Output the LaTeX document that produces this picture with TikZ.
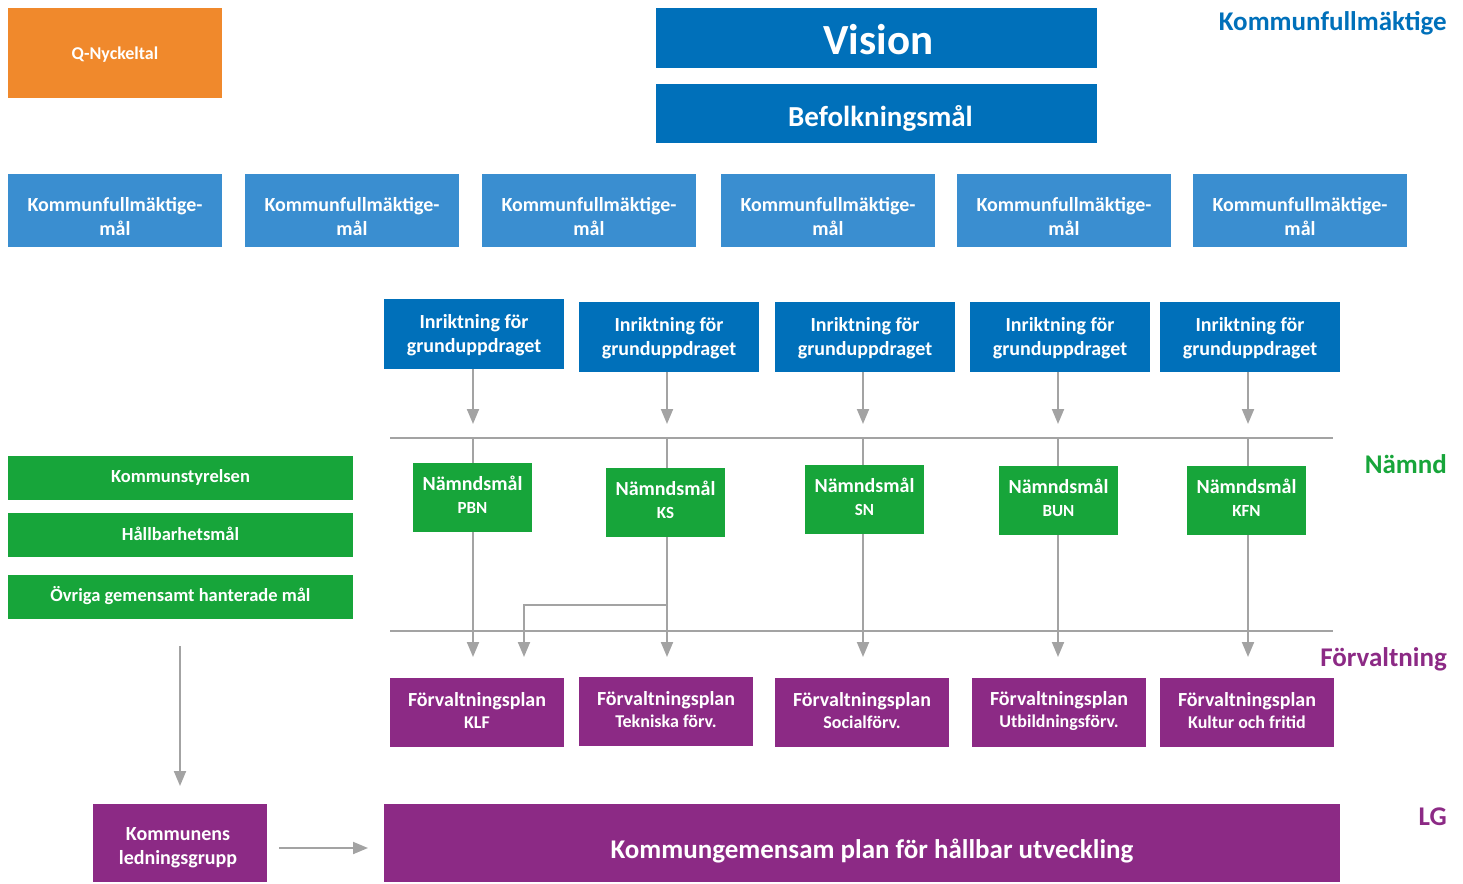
\documentclass[tikz,border=0pt]{standalone}
\usepackage{fontspec}
\setmainfont{Carlito}
\usetikzlibrary{arrows.meta}
\definecolor{orangeC}{HTML}{F0892C}
\definecolor{darkblue}{HTML}{0070BA}
\definecolor{lightblue}{HTML}{3A8ED0}
\definecolor{greenC}{HTML}{17A53A}
\definecolor{purpleC}{HTML}{8C2A85}
\definecolor{lineC}{HTML}{A3A3A3}
\tikzset{
  box/.style={draw=none,inner sep=0pt,outer sep=0pt},
  txt/.style={text=white,align=center,inner sep=0pt},
  conn/.style={draw=lineC,line width=2pt},
  arr/.style={conn,-{Triangle[width=12pt,length=15pt]}},
  lab/.style={font=\bfseries\fontsize{27}{30}\selectfont,anchor=east,inner sep=0pt}
}
% name, cx, cy, w, h, fill, text style, shift (dx,dy in picture coords), text
\newcommand{\tbox}[9]{%
  \node[box,fill=#6,minimum width=#4pt,minimum height=#5pt] (#1) at (#2,#3) {};
  \node[txt,#7] (#1t) at ([shift={(#8)}]#1.center) {#9};
}
\begin{document}
\begin{tikzpicture}[x=1pt,y=-1pt]
\useasboundingbox (0,0) rectangle (1463,883);
% top
\tbox{q}{115}{53}{214}{90}{orangeC}{font=\bfseries\fontsize{18}{22}\selectfont}{0,1.5}{Q-Nyckeltal}
\tbox{vision}{876.5}{38}{441}{60}{darkblue}{font=\bfseries\fontsize{43}{46}\selectfont}{2,2}{Vision}
\tbox{befolk}{876.5}{113.5}{441}{59}{darkblue}{font=\bfseries\fontsize{29}{32}\selectfont}{4,5}{Befolkningsmål}
\node[lab,text=darkblue] (lkf) at (1447,23) {Kommunfullmäktige};
% KF goals
\foreach \cx [count=\i] in {115,352,589,828,1064,1300}{
  \tbox{kf\i}{\cx}{210.5}{214}{73}{lightblue}{font=\bfseries\fontsize{20}{24}\selectfont}{0,6}{Kommunfullmäktige-\\mål}
}
% Inriktning
\tikzset{inr/.style={font=\bfseries\fontsize{20}{24}\selectfont}}
\tbox{i1}{474}{334}{180}{70}{darkblue}{inr}{0,1.5}{Inriktning för\\grunduppdraget}
\tbox{i2}{669}{337}{180}{70}{darkblue}{inr}{0,1.5}{Inriktning för\\grunduppdraget}
\tbox{i3}{865}{337}{180}{70}{darkblue}{inr}{0,1.5}{Inriktning för\\grunduppdraget}
\tbox{i4}{1060}{337}{180}{70}{darkblue}{inr}{0,1.5}{Inriktning för\\grunduppdraget}
\tbox{i5}{1250}{337}{180}{70}{darkblue}{inr}{0,1.5}{Inriktning för\\grunduppdraget}
% level lines
\coordinate (l1a) at (390,438); \coordinate (l1b) at (1333,438);
\coordinate (l2a) at (390,631); \coordinate (l2b) at (1333,631);
\draw[conn,line width=2.2pt] (l1a) -- (l1b);
\draw[conn,line width=2.2pt] (l2a) -- (l2b);
\node[lab,text=greenC] (lnamnd) at (1447,464) {Nämnd};
\node[lab,text=purpleC] (lforv) at (1447,659) {Förvaltning};
\node[lab,text=purpleC] (llg) at (1447,817) {LG};
% Nämndsmål
\tikzset{nm/.style={font=\bfseries\fontsize{20}{23}\selectfont}}
\newcommand{\sub}[1]{{\fontsize{17}{20}\selectfont #1}}
\tbox{n1}{472.5}{497.5}{119}{69}{greenC}{nm}{0,-3}{Nämndsmål\\\sub{PBN}}
\tbox{n2}{665.5}{502.5}{119}{69}{greenC}{nm}{0,-3}{Nämndsmål\\\sub{KS}}
\tbox{n3}{864.5}{499.5}{119}{69}{greenC}{nm}{0,-3}{Nämndsmål\\\sub{SN}}
\tbox{n4}{1058.5}{500.5}{119}{69}{greenC}{nm}{0,-3}{Nämndsmål\\\sub{BUN}}
\tbox{n5}{1246.5}{500.5}{119}{69}{greenC}{nm}{0,-3}{Nämndsmål\\\sub{KFN}}
% Förvaltningsplan
\tikzset{fp/.style={font=\bfseries\fontsize{20}{22}\selectfont}}
\newcommand{\fsub}[1]{{\fontsize{18}{20}\selectfont #1}}
\tbox{f1}{477}{712.5}{174}{69}{purpleC}{fp}{0,-2}{Förvaltningsplan\\\fsub{KLF}}
\tbox{f2}{666}{711.5}{174}{69}{purpleC}{fp}{0,-2}{Förvaltningsplan\\\fsub{Tekniska förv.}}
\tbox{f3}{862}{712.5}{174}{69}{purpleC}{fp}{0,-2}{Förvaltningsplan\\\fsub{Socialförv.}}
\tbox{f4}{1059}{712.5}{174}{69}{purpleC}{fp}{0,-2}{Förvaltningsplan\\\fsub{Utbildningsförv.}}
\tbox{f5}{1247}{712.5}{174}{69}{purpleC}{fp}{0,-2}{Förvaltningsplan\\\fsub{Kultur och fritid}}
% arrows inriktning -> nämnd
\foreach \x/\i in {473/1,667/2,863/3,1058/4,1248/5}{
  \coordinate (a\i) at (\x,424);
  \coordinate (b\i) at (\x,438);
  \coordinate (c\i) at (\x,657);
}
\draw[arr] (i1.south -| a1) -- (a1);
\draw[arr] (i2.south -| a2) -- (a2);
\draw[arr] (i3.south -| a3) -- (a3);
\draw[arr] (i4.south -| a4) -- (a4);
\draw[arr] (i5.south -| a5) -- (a5);
\draw[conn] (b1) -- (n1.north -| b1);
\draw[conn] (b2) -- (n2.north -| b2);
\draw[conn] (b3) -- (n3.north -| b3);
\draw[conn] (b4) -- (n4.north -| b4);
\draw[conn] (b5) -- (n5.north -| b5);
\draw[arr] (n1.south -| c1) -- (c1);
\draw[arr] (n2.south -| c2) -- (c2);
\draw[arr] (n3.south -| c3) -- (c3);
\draw[arr] (n4.south -| c4) -- (c4);
\draw[arr] (n5.south -| c5) -- (c5);
\coordinate (ksb) at (667,605);
\coordinate (ksc) at (524,657);
\draw[arr] (ksb) -| (ksc);
% left column
\tikzset{gl/.style={font=\bfseries\fontsize{18.5}{22}\selectfont}}
\tbox{ks}{180.5}{478}{345}{44}{greenC}{gl}{0,-1}{Kommunstyrelsen}
\tbox{hm}{180.5}{535}{345}{44}{greenC}{gl}{0,-1}{Hållbarhetsmål}
\tbox{ov}{180.5}{597}{345}{44}{greenC}{gl}{0,-1}{Övriga gemensamt hanterade mål}
% bottom
\tbox{klg}{180}{843}{174}{78}{purpleC}{font=\bfseries\fontsize{20}{24}\selectfont}{-2,5}{Kommunens\\ledningsgrupp}
\tbox{plan}{862}{843}{956}{78}{purpleC}{font=\bfseries\fontsize{27}{30}\selectfont}{10,8}{Kommungemensam plan för hållbar utveckling}
\coordinate (la) at (180,646); \coordinate (lb) at (180,786);
\draw[arr] (la) -- (lb);
\coordinate (ra) at (279,848); \coordinate (rb) at (368,848);
\draw[arr] (ra) -- (rb);
\end{tikzpicture}
\end{document}
